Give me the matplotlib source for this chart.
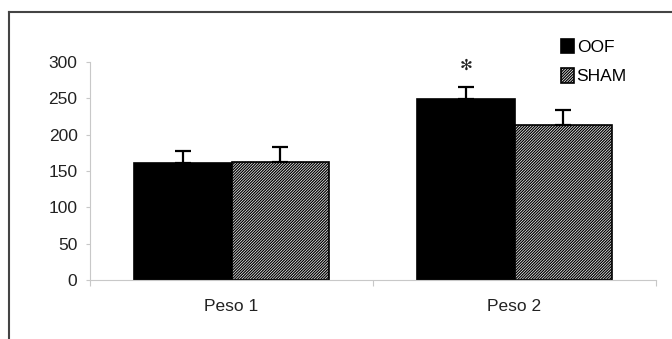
import matplotlib
matplotlib.use("Agg")
import matplotlib.pyplot as plt
from matplotlib.lines import Line2D
import numpy as np

categories = ["Peso 1", "Peso 2"]
oof_values = [161, 249]
oof_errors = [17, 16]
sham_values = [162, 213]
sham_errors = [21, 21]
series_names = ["OOF", "SHAM"]
y_ticks = [0, 50, 100, 150, 200, 250, 300]

plt.rcParams['font.family'] = ['Liberation Sans', 'DejaVu Sans']
plt.rcParams['hatch.linewidth'] = 0.9

fig = plt.figure(figsize=(6.72, 3.39), dpi=100)
ax = fig.add_axes([90/672, 1-280/339, (656-90)/672, (280-62)/339])

x = np.arange(len(categories))
w = 0.345
b1 = ax.bar(x - w/2, oof_values, w, color='black', edgecolor='black', linewidth=1.2,
            label=series_names[0], zorder=2)
b2 = ax.bar(x + w/2, sham_values, w, color='white', edgecolor='black', linewidth=1.2,
            hatch='////////////', label=series_names[1], zorder=2)
ax.errorbar(x - w/2, oof_values, yerr=[np.zeros(len(x)), oof_errors], fmt='none',
            ecolor='black', elinewidth=1.6, capsize=6, capthick=1.6, zorder=3)
ax.errorbar(x + w/2, sham_values, yerr=[np.zeros(len(x)), sham_errors], fmt='none',
            ecolor='black', elinewidth=1.6, capsize=6, capthick=1.6, zorder=3)

# significance asterisk
ax.text(x[1] - w/2, 296, "✻", ha='center', va='center', fontsize=11,
        family=['DejaVu Sans'], color='#222222')

ax.set_xlim(-0.5, 1.5)
ax.set_ylim(0, 300)
ax.set_yticks(y_ticks)
ax.set_yticklabels([str(v) for v in y_ticks], fontsize=12.5, color='#222222')
ax.set_xticks(x)
ax.set_xticklabels(categories, fontsize=12.5, color='#222222')
ax.set_xticks([-0.5, 0.5, 1.5], minor=True)
ax.tick_params(axis='x', which='major', length=0, pad=14)
ax.tick_params(axis='x', which='minor', length=4, color='#c8c8c8', width=0.8)
ax.tick_params(axis='y', length=3, color='#c8c8c8', width=0.8, pad=6)
for s in ['top', 'right']:
    ax.spines[s].set_visible(False)
for s in ['left', 'bottom']:
    ax.spines[s].set_color('#c8c8c8')
    ax.spines[s].set_linewidth(0.8)

fig.legend(handles=[b1, b2], labels=series_names, loc='upper left',
           bbox_to_anchor=(561/672, 1-39/339), frameon=False, fontsize=12.5,
           handlelength=0.75, handleheight=0.9, handletextpad=0.15, labelspacing=0.75,
           borderpad=0, borderaxespad=0)

# outer frame
fig.add_artist(Line2D([8.5/672, 8.5/672], [0, 1-12/339], transform=fig.transFigure,
                      color='#444444', linewidth=1.5))
fig.add_artist(Line2D([8.5/672, 1], [1-12/339, 1-12/339], transform=fig.transFigure,
                      color='#444444', linewidth=1.5))

fig.savefig("out.png", dpi=100)
